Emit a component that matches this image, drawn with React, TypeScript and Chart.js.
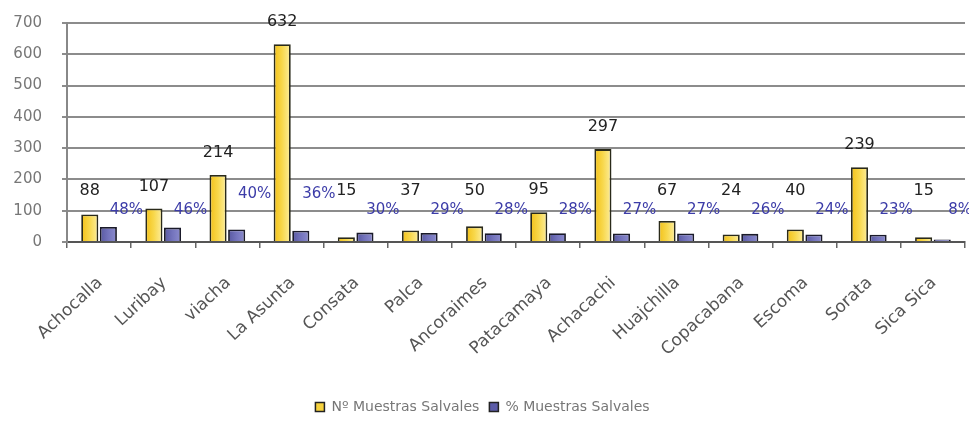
import React, { useEffect, useRef } from "react";
import { Chart, registerables } from "chart.js";

Chart.register(...registerables);

const categories = [
  "Achocalla", "Luribay", "viacha", "La Asunta", "Consata", "Palca", "Ancoraimes",
  "Patacamaya", "Achacachi", "Huajchilla", "Copacabana", "Escoma", "Sorata", "Sica Sica",
];
const muestras = [88, 107, 214, 632, 15, 37, 50, 95, 297, 67, 24, 40, 239, 15];
const porcentaje = [48, 46, 40, 36, 30, 29, 28, 28, 27, 27, 26, 24, 23, 8];
const yTickValues = [0, 100, 200, 300, 400, 500, 600, 700];
const seriesLabels = ["Nº Muestras Salvales", "% Muestras Salvales"];
const raisedPctLabels = [2, 3];

const FONT = '"DejaVu Sans", sans-serif';
const CAT_PCT = 0.58;

function barGradient(ctx: any, stops: string[]) {
  const chart = ctx.chart;
  const xs = chart.scales && chart.scales.x;
  if (!xs || ctx.dataIndex == null || !chart.chartArea) return stops[1];
  const c = xs.getPixelForValue(ctx.dataIndex);
  const catW = xs.width / categories.length;
  const half = (catW * CAT_PCT) / 2;
  const left = ctx.datasetIndex === 0 ? c - half : c;
  const right = ctx.datasetIndex === 0 ? c : c + half;
  if (!isFinite(left) || !isFinite(right)) return stops[1];
  const g = chart.ctx.createLinearGradient(left, 0, right, 0);
  g.addColorStop(0, stops[0]);
  g.addColorStop(0.5, stops[1]);
  g.addColorStop(1, stops[2]);
  return g;
}

const labelPlugin = {
  id: "valueLabels",
  afterDatasetsDraw(chart: any) {
    const { ctx } = chart;
    const y = chart.scales.y;
    const m0 = chart.getDatasetMeta(0);
    const m1 = chart.getDatasetMeta(1);
    ctx.save();
    ctx.textAlign = "center";
    ctx.textBaseline = "middle";
    ctx.font = `16px ${FONT}`;
    ctx.fillStyle = "#222";
    m0.data.forEach((el: any, i: number) => {
      const ty = Math.min(el.y - 22, y.getPixelForValue(165));
      ctx.fillText(String(muestras[i]), el.x, ty);
    });
    ctx.font = `15px ${FONT}`;
    ctx.fillStyle = "#3c3ca8";
    m1.data.forEach((el: any, i: number) => {
      const v = raisedPctLabels.includes(i) ? 152 : 102;
      ctx.fillText(porcentaje[i] + "%", el.x + 18, y.getPixelForValue(v));
    });
    ctx.restore();
  },
};

function zeroPad(s: any) {
  s.paddingLeft = 0;
  s.paddingRight = 0;
  s.paddingTop = 0;
  s.paddingBottom = 0;
}

export default function App() {
  const ref = useRef<HTMLCanvasElement | null>(null);

  useEffect(() => {
    if (!ref.current) return;
    const chart = new Chart(ref.current, {
      type: "bar",
      data: {
        labels: categories,
        datasets: [
          {
            label: seriesLabels[0],
            data: muestras,
            backgroundColor: (c: any) => barGradient(c, ["#f2be12", "#f8d84c", "#fdf0a6"]),
            borderColor: "#2a2a1a",
            borderWidth: 1.8,
            categoryPercentage: CAT_PCT,
            barPercentage: 0.92,
          },
          {
            label: seriesLabels[1],
            data: porcentaje,
            backgroundColor: (c: any) => barGradient(c, ["#55559e", "#7474bd", "#8e8ecf"]),
            borderColor: "#1a1a2a",
            borderWidth: 1.8,
            categoryPercentage: CAT_PCT,
            barPercentage: 0.92,
          },
        ],
      },
      options: {
        animation: false,
        responsive: true,
        maintainAspectRatio: false,
        layout: { padding: { top: 23, right: 4, bottom: 3, left: 0 } },
        plugins: {
          tooltip: { enabled: false },
          legend: {
            position: "bottom",
            labels: {
              boxWidth: 9,
              boxHeight: 9,
              padding: 10,
              color: "#777",
              font: { family: FONT, size: 14 },
              generateLabels: () => [
                { text: seriesLabels[0], fillStyle: "#f6d23e", strokeStyle: "#222", lineWidth: 1.5, datasetIndex: 0, hidden: false, fontColor: "#777" },
                { text: seriesLabels[1], fillStyle: "#5c5ca8", strokeStyle: "#222", lineWidth: 1.5, datasetIndex: 1, hidden: false, fontColor: "#777" },
              ],
            },
          },
        },
        scales: {
          x: {
            afterFit: (s: any) => { s.height = 148; zeroPad(s); },
            grid: { display: true, drawOnChartArea: false, drawTicks: true, tickLength: 6, color: "#666", lineWidth: 1.5, offset: true },
            border: { display: true, color: "#555", width: 2 },
            ticks: {
              autoSkip: false,
              minRotation: 43,
              maxRotation: 43,
              padding: 25,
              labelOffset: 1,
              color: "#555",
              font: { family: FONT, size: 17 },
            },
          },
          y: {
            min: 0,
            max: 700,
            afterFit: (s: any) => { s.width = 67; zeroPad(s); },
            afterBuildTicks: (s: any) => { s.ticks = yTickValues.map((v) => ({ value: v })); },
            grid: { color: "#8c8c8c", lineWidth: 2, tickLength: 5 },
            border: { display: true, color: "#888", width: 2 },
            ticks: {
              padding: 20,
              color: "#777",
              font: { family: FONT, size: 15 },
            },
          },
        },
      },
      plugins: [labelPlugin],
    } as any);
    return () => chart.destroy();
  }, []);

  return (
    <div style={{ position: "absolute", left: 0, top: 0, width: 969, height: 427, background: "#fff" }}>
      <canvas ref={ref} />
    </div>
  );
}
